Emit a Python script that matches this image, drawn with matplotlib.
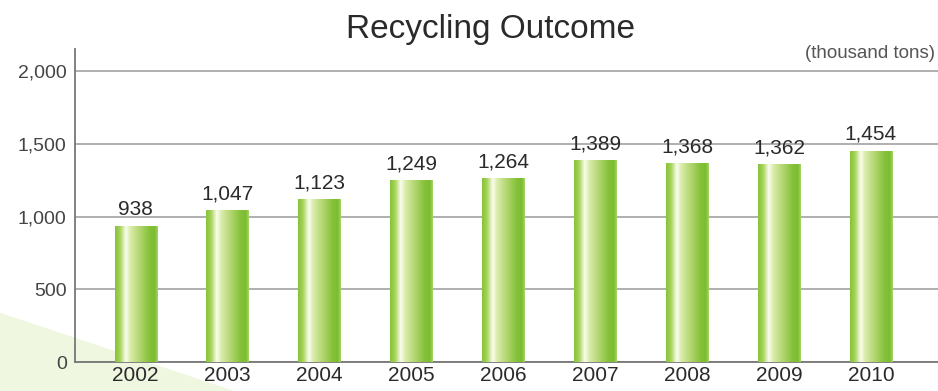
import matplotlib
matplotlib.use("Agg")
import matplotlib.pyplot as plt
import numpy as np
from matplotlib.colors import LinearSegmentedColormap
from matplotlib.patches import Polygon

years = ["2002", "2003", "2004", "2005", "2006", "2007", "2008", "2009", "2010"]
values = [938, 1047, 1123, 1249, 1264, 1389, 1368, 1362, 1454]
value_labels = ["938", "1,047", "1,123", "1,249", "1,264", "1,389", "1,368", "1,362", "1,454"]
yticks = [0, 500, 1000, 1500, 2000]
ytick_labels = ["0", "500", "1,000", "1,500", "2,000"]

plt.rcParams['font.family'] = ['Liberation Sans', 'DejaVu Sans']

fig = plt.figure(figsize=(9.38, 3.91), dpi=100)
fig.patch.set_facecolor('white')

# light green wedge in the lower-left background
wedge = Polygon([(0, 0), (0, 0.20), (0.25, 0)], closed=True, transform=fig.transFigure,
                facecolor='#f0f7e1', edgecolor='none', zorder=-5)
fig.patches.append(wedge)

ax = fig.add_axes([0.080, 0.0740, 0.92, 0.80])
ax.set_zorder(2)
ax.set_facecolor('none')

x = np.arange(len(years))
width = 0.46
bars = ax.bar(x, values, width=width, color='none', edgecolor='none', zorder=3)

cmap = LinearSegmentedColormap.from_list('barg', [
    (0.00, '#86c23a'),
    (0.12, '#a8d45a'),
    (0.25, '#fbfdf0'),
    (0.36, '#d8eca8'),
    (0.55, '#b8d878'),
    (0.80, '#86c23a'),
    (0.93, '#7cbc30'),
    (1.00, '#a9d66a'),
])
grad = np.linspace(0, 1, 256).reshape(1, -1)
for b in bars:
    x0 = b.get_x()
    w = b.get_width()
    h = b.get_height()
    im = ax.imshow(grad, cmap=cmap, aspect='auto', extent=[x0, x0 + w, 0, h],
                   zorder=3, interpolation='bicubic')
    im.set_clip_path(b)

for xi, v, lab in zip(x, values, value_labels):
    ax.text(xi, v + 45, lab, ha='center', va='bottom', fontsize=15,
            color='#2a2a2a', zorder=4)

ax.set_xlim(-0.66, 8.73)
ax.set_ylim(0, 2150)
ax.set_yticks(yticks)
ax.set_yticklabels(ytick_labels, fontsize=14, color='#444444')
ax.set_xticks(x)
ax.set_xticklabels(years, fontsize=15, color='#2a2a2a')
ax.tick_params(axis='both', length=0)
ax.tick_params(axis='y', pad=6)
ax.tick_params(axis='x', pad=3)
ax.yaxis.grid(True, color='#9a9a9a', linewidth=1.1, zorder=1)
ax.set_axisbelow(True)
for s in ['top', 'right']:
    ax.spines[s].set_visible(False)
ax.spines['left'].set_color('#777777')
ax.spines['left'].set_linewidth(1.3)
ax.spines['bottom'].set_color('#777777')
ax.spines['bottom'].set_linewidth(1.3)

fig.text(0.523, 0.925, "Recycling Outcome", ha='center', va='center', fontsize=24, color='#2a2a2a')
fig.text(0.997, 0.862, "(thousand tons)", ha='right', va='center', fontsize=13.5, color='#555555')

fig.savefig("out.png", dpi=100)
